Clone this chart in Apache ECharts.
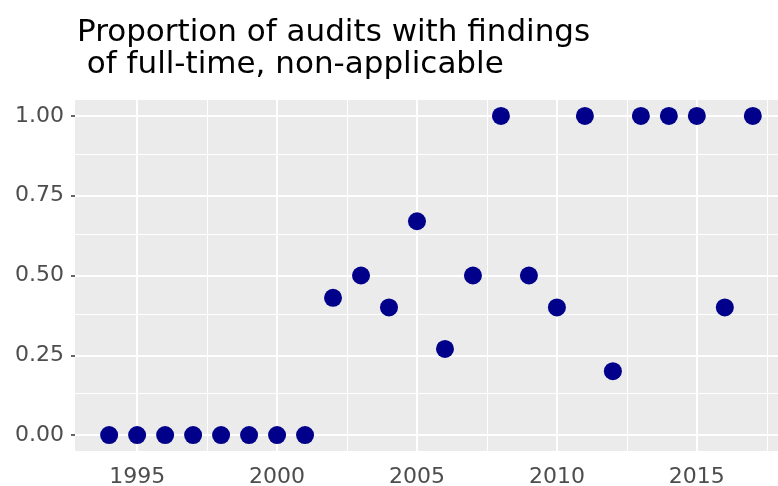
<!DOCTYPE html>
<html>
<head>
<meta charset="utf-8">
<script src="https://cdn.jsdelivr.net/npm/echarts@6/dist/echarts.min.js"></script>
<style>html,body{margin:0;padding:0;background:#fff}#c{width:778px;height:486px}</style>
</head>
<body>
<div id="c"></div>
<script>
const years = [1994,1995,1996,1997,1998,1999,2000,2001,2002,2003,2004,2005,2006,2007,2008,2009,2010,2011,2012,2013,2014,2015,2016,2017];
const proportions = [0,0,0,0,0,0,0,0,0.43,0.5,0.4,0.67,0.27,0.5,1,0.5,0.4,1,0.2,1,1,1,0.4,1];
const xTicks = [1995,2000,2005,2010,2015];
const xMinor = [1997.5,2002.5,2007.5,2012.5,2017.5];
const yTicks = [0,0.25,0.5,0.75,1];
const yMinor = [0.125,0.375,0.625,0.875];
const titleLines = ["Proportion of audits with findings", " of full-time, non-applicable"];

const FONT = "DejaVu Sans";
const gridLines = [];
xTicks.forEach(v => gridLines.push({xAxis: v, lineStyle: {width: 2}}));
xMinor.forEach(v => gridLines.push({xAxis: v, lineStyle: {width: 1}}));
yTicks.forEach(v => gridLines.push({yAxis: v, lineStyle: {width: 2}}));
yMinor.forEach(v => gridLines.push({yAxis: v, lineStyle: {width: 1}}));

const chart = echarts.init(document.getElementById('c'), null, {renderer: 'canvas'});
chart.setOption({
  animation: false,
  backgroundColor: '#ffffff',
  title: {
    text: titleLines.join('\n'),
    left: 72,
    top: 12,
    textStyle: {fontFamily: FONT, fontSize: 31, lineHeight: 32, fontWeight: 'normal', color: '#000000'}
  },
  grid: {left: 75, right: 0, top: 100, bottom: 35, show: true, backgroundColor: '#EBEBEB', borderWidth: 0,
    containLabel: false, outerBoundsMode: 'none'},
  xAxis: {
    type: 'value', min: 1992.78, max: 2017.9,
    axisLine: {show: false},
    splitLine: {show: false},
    axisTick: {show: true, customValues: xTicks, length: 4, lineStyle: {color: '#333333', width: 1.5}},
    axisLabel: {customValues: xTicks, fontFamily: FONT, fontSize: 22, color: '#4D4D4D', margin: 15, formatter: v => String(v)}
  },
  yAxis: {
    type: 'value', min: -0.05, max: 1.05,
    axisLine: {show: false},
    splitLine: {show: false},
    axisTick: {show: true, customValues: yTicks, length: 4, lineStyle: {color: '#333333', width: 1.5}},
    axisLabel: {customValues: yTicks, fontFamily: FONT, fontSize: 22, color: '#4D4D4D', margin: 11, formatter: v => v.toFixed(2)}
  },
  series: [
    {
      type: 'scatter', data: [], z: 1, silent: true,
      markLine: {silent: true, z: 1, symbol: 'none', animation: false, label: {show: false},
        lineStyle: {color: '#FFFFFF', type: 'solid'}, emphasis: {disabled: true}, data: gridLines}
    },
    {
      type: 'scatter', z: 10,
      symbolSize: 18,
      itemStyle: {color: '#00008B', opacity: 1},
      data: years.map((y, i) => [y, proportions[i]])
    }
  ]
});
</script>
</body>
</html>
